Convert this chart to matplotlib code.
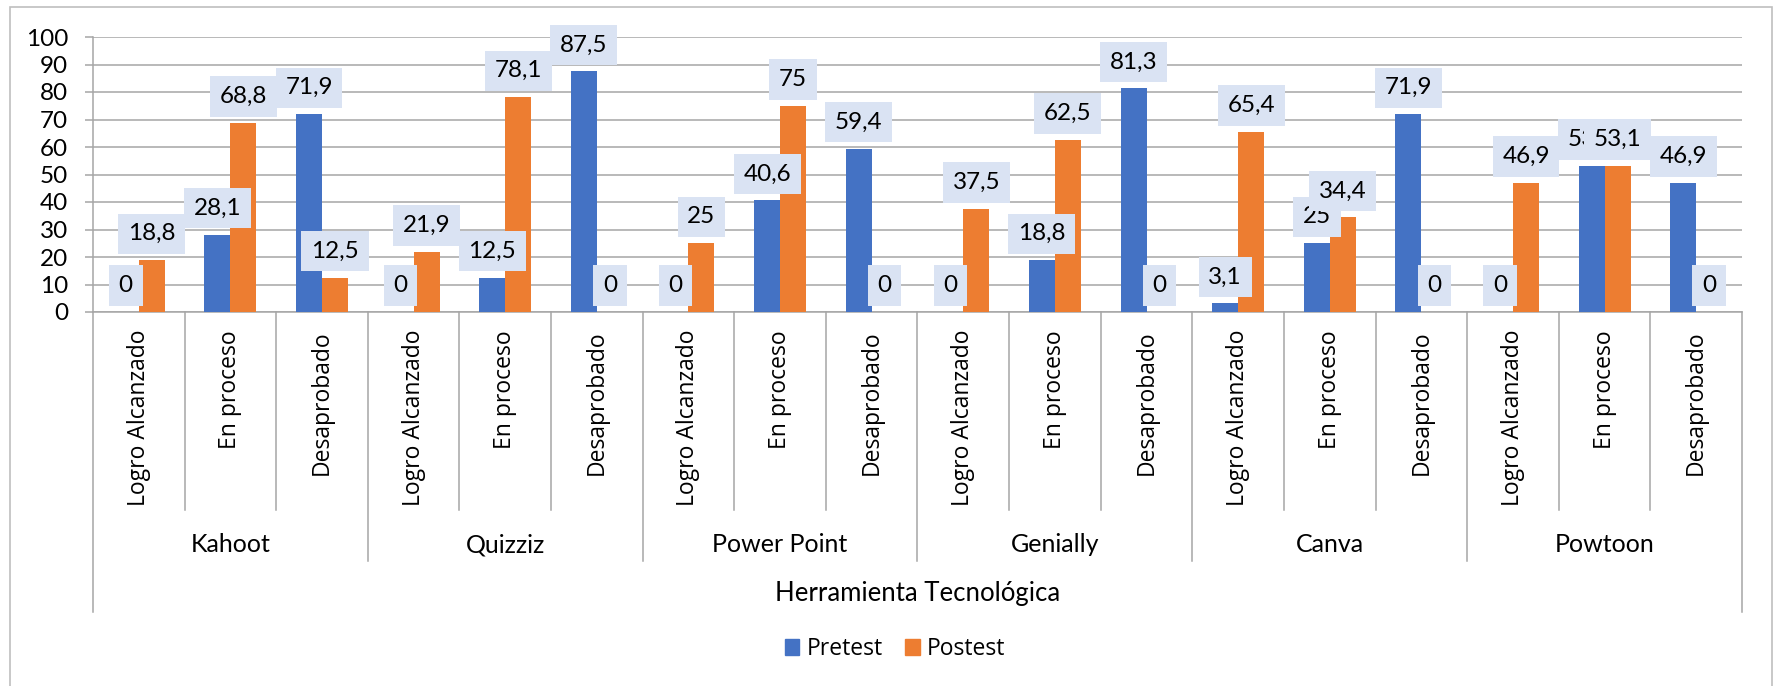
import matplotlib
matplotlib.use("Agg")
import matplotlib.pyplot as plt
import matplotlib.transforms as mtransforms
from matplotlib.patches import Rectangle, Patch

# Datos
herramientas = ["Kahoot", "Quizziz", "Power Point", "Genially", "Canva", "Powtoon"]
niveles = ["Logro Alcanzado", "En proceso", "Desaprobado"]
pretest = [0, 28.1, 71.9, 0, 12.5, 87.5, 0, 40.6, 59.4,
           0, 18.8, 81.3, 3.1, 25, 71.9, 0, 53.1, 46.9]
postest = [18.8, 68.8, 12.5, 21.9, 78.1, 0, 25, 75, 0,
           37.5, 62.5, 0, 65.4, 34.4, 0, 46.9, 53.1, 0]

azul = "#4472C4"
naranja = "#ED7D31"
gris = "#A6A6A6"
caja = "#DAE3F3"

W, H = 1777, 686
fig = plt.figure(figsize=(W / 100, H / 100), dpi=100)

# posiciones en pixeles
x0, x1 = 93, 1742
y_top, y_bot = 37, 312
ax = fig.add_axes([x0 / W, 1 - y_bot / H, (x1 - x0) / W, (y_bot - y_top) / H])

n = len(pretest)
centros = [i + 0.5 for i in range(n)]
ancho = 0.284

ax.bar([c - ancho / 2 for c in centros], pretest, width=ancho, color=azul, zorder=3, label="Pretest")
ax.bar([c + ancho / 2 for c in centros], postest, width=ancho, color=naranja, zorder=3, label="Postest")

ax.set_xlim(0, n)
ax.set_ylim(0, 100)
ax.set_yticks(range(0, 101, 10))
ax.set_xticks([])
ax.grid(axis="y", color=gris, linewidth=1.1, zorder=0)
for s in ["top", "right"]:
    ax.spines[s].set_visible(False)
ax.spines["left"].set_color(gris)
ax.spines["bottom"].set_color(gris)
ax.spines["left"].set_linewidth(1.1)
ax.spines["bottom"].set_linewidth(1.1)
ax.tick_params(axis="y", length=6, color=gris, width=1.1, pad=12, labelsize=17.5)
for t in ax.get_yticklabels():
    t.set_family("Lato")


def fmt(v):
    return f"{v:g}".replace(".", ",")


# etiquetas de datos (primero Pretest, luego Postest encima)
for serie, desp in [(pretest, -ancho / 2), (postest, ancho / 2)]:
    for c, v in zip(centros, serie):
        ax.annotate(fmt(v), xy=(c + desp, v), xytext=(0, 11.5), textcoords="offset points",
                    ha="center", va="bottom", fontsize=17.5, family="Lato", zorder=5,
                    annotation_clip=False,
                    bbox=dict(boxstyle="square,pad=0.4", fc=caja, ec="none"))

# eje de categorias multinivel
tr = mtransforms.blended_transform_factory(ax.transData, fig.transFigure)


def fy(px):
    return 1 - px / H


for i in range(n + 1):
    if i == 0 or i == n:
        yb = 612
    elif i % 3 == 0:
        yb = 561
    else:
        yb = 510
    ax.plot([i, i], [fy(y_bot), fy(yb)], color=gris, linewidth=1.1, transform=tr, clip_on=False)

for i, c in enumerate(centros):
    ax.text(c, fy(330), niveles[i % 3], rotation=90, ha="center", va="top",
            fontsize=16.5, family="Open Sans", transform=tr)

for g, nombre in enumerate(herramientas):
    ax.text(g * 3 + 1.5, fy(545), nombre, ha="center", va="center",
            fontsize=18, family="Lato", transform=tr)

ax.text(n / 2, fy(593), "Herramienta Tecnológica", ha="center", va="center",
        fontsize=18.5, family="Lato", transform=tr)

# leyenda
handles = [Patch(color=azul, label="Pretest"), Patch(color=naranja, label="Postest")]
fig.legend(handles=handles, loc="center", bbox_to_anchor=(895 / W, fy(649)), ncol=2,
           frameon=False, prop={"family": "Open Sans", "size": 16.5},
           handlelength=0.65, handleheight=0.65, handletextpad=0.3, columnspacing=1.0)

# marco exterior
fig.patches.append(Rectangle((10 / W, -0.1), (1772 - 10) / W, 1.1 - 7 / H, transform=fig.transFigure,
                             fill=False, edgecolor="#BFBFBF", linewidth=1.2))

fig.savefig("out.png", dpi=100)
